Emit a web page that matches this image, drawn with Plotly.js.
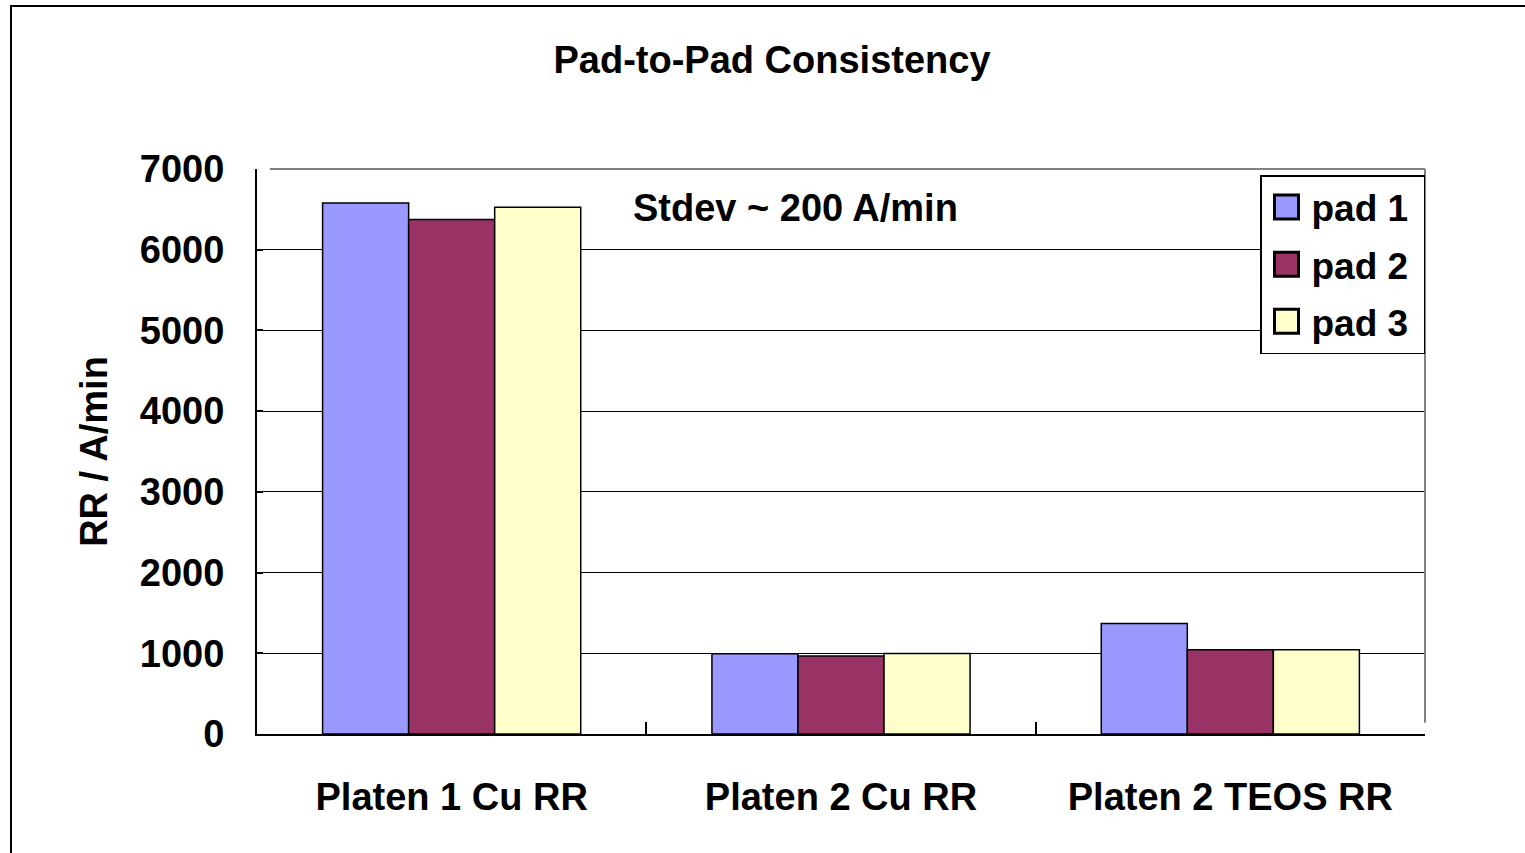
<!DOCTYPE html>
<html>
<head>
<meta charset="utf-8">
<script src="https://cdn.plot.ly/plotly-3.0.1.min.js"></script>
<style>
  html, body { margin: 0; padding: 0; background: #fff; }
  #wrap { position: relative; width: 1525px; height: 853px; overflow: hidden; }
  #chart { width: 1525px; height: 853px; }
  #frame { position: absolute; left: 10px; top: 5px; width: 1600px; height: 1000px;
           border-left: 2px solid #000; border-top: 2px solid #000; pointer-events: none; }
</style>
</head>
<body>
<div id="wrap">
  <div id="chart"></div>
  <div id="frame"></div>
</div>
<script>
const categories = ["Platen 1 Cu RR", "Platen 2 Cu RR", "Platen 2 TEOS RR"];
const seriesNames = ["pad 1", "pad 2", "pad 3"];
const pad1 = [6580, 995, 1370];
const pad2 = [6375, 965, 1045];
const pad3 = [6525, 997, 1045];
const yTicks = [0, 1000, 2000, 3000, 4000, 5000, 6000, 7000];
const colors = ["#9999FF", "#993366", "#FFFFCC"];

const FONT = '"Liberation Sans", Arial, sans-serif';
const values = [pad1, pad2, pad3];

const traces = values.map((v, i) => ({
  type: "bar",
  name: seriesNames[i] + "&nbsp;",
  x: categories,
  y: v,
  legendgroup: "g" + i,
  marker: { color: colors[i], line: { color: "#000", width: 1.5 } },
  hoverinfo: "x+y+name"
}));

const layout = {
  width: 1525, height: 853,
  paper_bgcolor: "#fff", plot_bgcolor: "#fff",
  margin: { l: 257, r: 100, t: 169, b: 119, pad: 0 },
  font: { family: FONT, color: "#000" },
  title: {
    text: "<b>Pad-to-Pad Consistency</b>",
    font: { family: FONT, size: 38, color: "#000" },
    xref: "container", x: 772 / 1525, xanchor: "center",
    yref: "container", y: 1 - 60/853, yanchor: "middle"
  },
  barmode: "group",
  bargap: 0.337,
  bargroupgap: 0,
  showlegend: true,
  legend: {
    x: 1, xanchor: "right", xref: "paper",
    y: 1 - 6/565, yanchor: "top", yref: "paper",
    bgcolor: "#fff", bordercolor: "#000", borderwidth: 1.5,
    font: { family: FONT, size: 37, color: "#000", weight: "bold" },
    traceorder: "grouped", tracegroupgap: 6,
    itemwidth: 40
  },
  xaxis: {
    type: "category",
    showline: true, linecolor: "#000", linewidth: 2,
    ticks: "inside", tickson: "boundaries", ticklen: 12, tickwidth: 2, tickcolor: "#000",
    tickfont: { family: FONT, size: 38, color: "#000", weight: "bold" },
    ticklabelstandoff: 28,
    showgrid: false, zeroline: false, fixedrange: true
  },
  yaxis: {
    range: [0, 7000],
    tickvals: yTicks,
    ticktext: yTicks.map(String),
    showline: true, linecolor: "#000", linewidth: 2,
    ticks: "inside", ticklen: 6, tickwidth: 2, tickcolor: "#000",
    tickfont: { family: FONT, size: 38, color: "#000", weight: "bold" },
    showgrid: true, gridcolor: "#000", gridwidth: 1.2,
    zeroline: false, fixedrange: true,
    ticklabelstandoff: 23,
    title: { text: "<b>RR / A/min</b>", font: { family: FONT, size: 38, color: "#000" }, standoff: 21 }
  },
  shapes: [
    { type: "line", xref: "paper", yref: "paper", x0: 0.011, x1: 1, y0: 1, y1: 1,
      line: { color: "#808080", width: 2 }, layer: "above" },
    { type: "line", xref: "paper", yref: "paper", x0: 1, x1: 1, y0: 0.02, y1: 1,
      line: { color: "#808080", width: 2 }, layer: "above" }
  ],
  annotations: [
    { text: "<b>Stdev ~ 200 A/min</b>", xref: "paper", yref: "paper",
      x: (795 - 257) / 1168, y: (734 - 208) / 565, xanchor: "center", yanchor: "middle",
      showarrow: false, font: { family: FONT, size: 38, color: "#000" } }
  ]
};

Plotly.newPlot("chart", traces, layout, { displayModeBar: false, staticPlot: true }).then(() => {
  document.querySelectorAll(".legendpoints path").forEach(p => {
    const t = p.getAttribute("transform") || "";
    p.setAttribute("transform", t + " scale(2)");
  });
});
</script>
</body>
</html>
